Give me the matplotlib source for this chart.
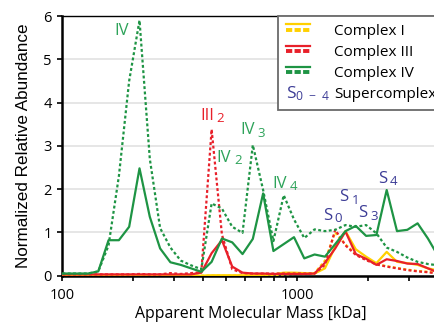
import matplotlib
matplotlib.use('Agg')
import matplotlib.pyplot as plt
from matplotlib.legend_handler import HandlerBase
from matplotlib.lines import Line2D
from matplotlib.text import Text

plt.rcParams['font.family'] = 'Open Sans'
plt.rcParams['mathtext.fontset'] = 'custom'
plt.rcParams['mathtext.rm'] = 'Open Sans'
plt.rcParams['mathtext.it'] = 'Open Sans'

# apparent molecular mass of each gel slice [kDa]
mass = [95.3, 105.4, 116.6, 129.0, 142.7, 157.8, 174.6, 193.1, 213.7, 236.4,
        261.5, 289.3, 320.0, 354.0, 391.6, 433.2, 479.2, 530.1, 586.4, 648.6,
        717.5, 793.7, 878.0, 971.0, 1074, 1188, 1315, 1454, 1608, 1779,
        1968, 2177, 2408, 2664, 2947, 3260, 3606, 3989]

# Complex I
c1_solid = [0.0, 0.0, 0.0, 0.0, 0.0, 0.0, 0.0, 0.0, 0.0, 0.0,
            0.0, 0.0, 0.0, 0.0, 0.0, 0.01, 0.01, 0.01, 0.01, 0.01,
            0.02, 0.03, 0.07, 0.07, 0.06, 0.05, 0.17, 0.67, 1.03, 0.61,
            0.44, 0.29, 0.55, 0.32, 0.29, 0.25, 0.17, 0.12]
c1_dash = [0.0, 0.0, 0.0, 0.0, 0.0, 0.0, 0.0, 0.0, 0.0, 0.0,
           0.0, 0.0, 0.0, 0.0, 0.0, 0.0, 0.0, 0.0, 0.0, 0.0,
           0.0, 0.01, 0.03, 0.04, 0.04, 0.06, 0.35, 1.0, 0.72, 0.5,
           0.37, 0.27, 0.22, 0.18, 0.14, 0.11, 0.09, 0.06]
# Complex III
c3_solid = [0.03, 0.03, 0.03, 0.03, 0.03, 0.03, 0.03, 0.03, 0.03, 0.03,
            0.03, 0.03, 0.03, 0.03, 0.07, 0.52, 0.82, 0.21, 0.07, 0.05,
            0.05, 0.04, 0.04, 0.04, 0.04, 0.05, 0.3, 0.63, 1.02, 0.5,
            0.39, 0.25, 0.38, 0.34, 0.28, 0.27, 0.17, 0.07]
c3_dash = [0.03, 0.03, 0.03, 0.03, 0.03, 0.03, 0.03, 0.03, 0.04, 0.03,
           0.03, 0.06, 0.04, 0.06, 0.08, 3.38, 0.95, 0.15, 0.06, 0.05,
           0.05, 0.05, 0.05, 0.05, 0.05, 0.05, 0.25, 1.06, 0.7, 0.48,
           0.36, 0.26, 0.21, 0.17, 0.13, 0.1, 0.08, 0.05]
# Complex IV
c4_solid = [0.05, 0.05, 0.05, 0.05, 0.1, 0.82, 0.82, 1.13, 2.48, 1.36,
            0.63, 0.31, 0.25, 0.17, 0.09, 0.32, 0.86, 0.77, 0.5, 0.85,
            1.9, 0.57, 0.73, 0.89, 0.4, 0.49, 0.44, 0.73, 1.03, 1.15,
            0.92, 0.94, 1.98, 1.03, 1.06, 1.21, 0.86, 0.45]
c4_dash = [0.05, 0.05, 0.05, 0.05, 0.1, 0.7, 2.3, 4.5, 5.9, 2.7,
           1.1, 0.65, 0.35, 0.24, 0.15, 1.67, 1.55, 1.13, 0.99, 3.02,
           1.98, 0.8, 1.86, 1.3, 0.87, 1.07, 1.03, 1.06, 1.17, 1.13,
           1.17, 0.98, 0.65, 0.55, 0.42, 0.32, 0.27, 0.24]

# peak labels: (main text, subscript, mass, value, colour key)
peak_labels = [
    ('IV', '', 180, 5.65, 'iv'),
    ('III', '2', 414, 3.69, 'iii'),
    ('IV', '2', 489, 2.73, 'iv'),
    ('IV', '3', 616, 3.36, 'iv'),
    ('IV', '4', 842, 2.13, 'iv'),
    ('S', '0', 1348, 1.38, 's'),
    ('S', '1', 1585, 1.81, 's'),
    ('S', '3', 1904, 1.44, 's'),
    ('S', '4', 2312, 2.24, 's'),
]

YELLOW = '#ffd000'
RED = '#e8202a'
GREEN = '#1e9444'
LGREEN = '#2ea35a'
BLUE = '#3c3c96'
label_colors = {'iv': LGREEN, 'iii': RED, 's': BLUE}

dot = (0, (1.3, 1.1))

fig = plt.figure(figsize=(4.35, 3.22), dpi=100)
ax = fig.add_axes([62 / 435, 1 - 275.7 / 322, 378 / 435, (275.7 - 16) / 322])

for sol, das, col in [(c1_solid, c1_dash, YELLOW), (c3_solid, c3_dash, RED),
                      (c4_solid, c4_dash, GREEN)]:
    ax.plot(mass, das, color=col, lw=1.6, ls=dot, zorder=3)
    ax.plot(mass, sol, color=col, lw=1.6, zorder=3)

for main, sub, x, y, key in peak_labels:
    t = ax.text(x, y, main, color=label_colors[key], fontsize=12,
                ha='center', va='center', zorder=4)
    if sub:
        ax.annotate(sub, xy=(1, 0), xycoords=t, xytext=(2, -1),
                    textcoords='offset points', color=label_colors[key],
                    fontsize=9.5, ha='left', va='bottom', zorder=4)

ax.set_xscale('log')
ax.set_xlim(100, 10 ** (2 + 378 / 235))
ax.set_ylim(0, 6)
ax.set_yticks(range(7))
ax.set_xticks([100, 1000])
ax.set_xticklabels(['100', '1000'])
ax.xaxis.set_minor_locator(matplotlib.ticker.LogLocator(base=10, subs=range(2, 10)))
ax.xaxis.set_minor_formatter(matplotlib.ticker.NullFormatter())
ax.tick_params(axis='both', which='both', direction='out', length=3.5,
               width=1.2, labelsize=10.5)
ax.tick_params(axis='x', which='major', pad=5)
ax.tick_params(axis='y', pad=4)
ax.grid(axis='y', color='#e6e6e6', lw=1.4)
ax.set_axisbelow(True)
for s in ['left', 'bottom']:
    ax.spines[s].set_linewidth(1.8)
ax.spines['top'].set_linewidth(1.0)
ax.spines['right'].set_visible(False)

ax.set_xlabel('Apparent Molecular Mass [kDa]', fontsize=11.4, labelpad=2.5)
ax.set_ylabel('Normalized Relative Abundance', fontsize=12.3,
              family='Liberation Sans', labelpad=9)


class DoubleLine(HandlerBase):
    def create_artists(self, legend, orig_handle, xdescent, ydescent,
                       width, height, fontsize, trans):
        c = orig_handle.get_color()
        top = Line2D([0, width], [height * 0.95, height * 0.95], color=c,
                     lw=1.6, transform=trans)
        bot = Line2D([0, width], [height * 0.45, height * 0.45], color=c,
                     lw=2.8, ls=(0, (1.6, 0.6)), transform=trans)
        return [top, bot]


class TextHandle(HandlerBase):
    def create_artists(self, legend, orig_handle, xdescent, ydescent,
                       width, height, fontsize, trans):
        t = Text(0, 0, r'S$_{0\ -\ 4}$', color=BLUE,
                 fontsize=12.5, ha='left', va='baseline', transform=trans)
        return [t]


h1 = Line2D([], [], color=YELLOW)
h3 = Line2D([], [], color=RED)
h4 = Line2D([], [], color=GREEN)
hs = Line2D([], [], color=BLUE)
leg = ax.legend([h1, h3, h4, hs],
                ['Complex I', 'Complex III', 'Complex IV', 'Supercomplex'],
                handler_map={h1: DoubleLine(), h3: DoubleLine(),
                             h4: DoubleLine(), hs: TextHandle()},
                loc='upper left', bbox_to_anchor=((278 - 62) / 378, 1.0),
                borderaxespad=0, fontsize=11,
                handlelength=1.6, handletextpad=1.55, labelspacing=0.4,
                borderpad=0.5, fancybox=False, framealpha=1)
leg.get_frame().set_edgecolor('#6a6a6a')
leg.get_frame().set_linewidth(1.3)

fig.savefig('out.png', dpi=100)
